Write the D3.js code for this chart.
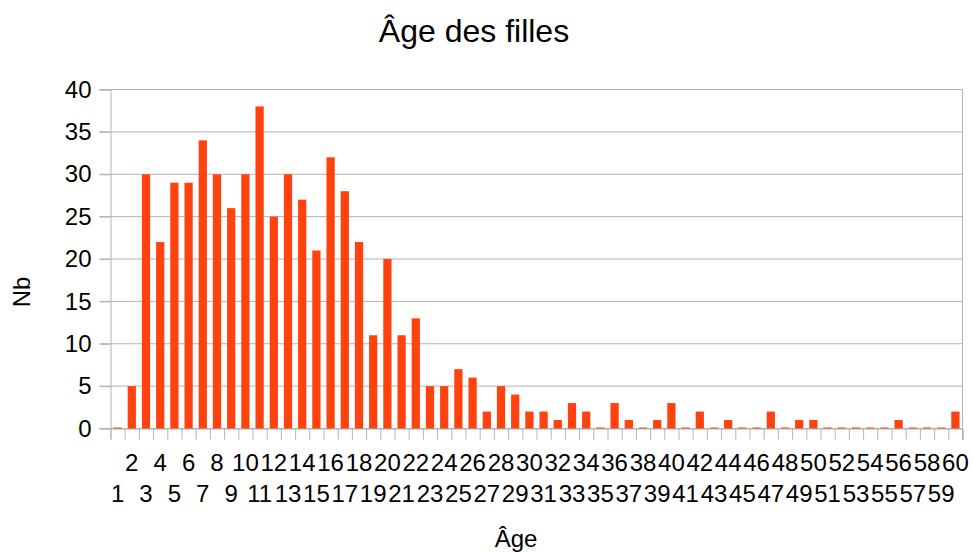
<!DOCTYPE html>
<html>
<head>
<meta charset="utf-8">
<script src="https://cdn.jsdelivr.net/npm/d3@7"></script>
<style>
  body { margin: 0; background: #fff; }
  svg text { font-family: "Liberation Sans", Arial, sans-serif; fill: #000; }
</style>
</head>
<body>
<svg id="svg" width="973" height="553"></svg>
<script>
// ages 1..60
const ages = d3.range(1, 61).map(String);
const counts = [
    0, 5, 30, 22, 29, 29, 34, 30, 26, 30,
    38, 25, 30, 27, 21, 32, 28, 22, 11, 20,
    11, 13, 5, 5, 7, 6, 2, 5, 4, 2,
    2, 1, 3, 2, 0, 3, 1, 0, 1, 3,
    0, 2, 0, 1, 0, 0, 2, 0, 1, 1,
    0, 0, 0, 0, 0, 1, 0, 0, 0, 2
];
const yTicks = [0, 5, 10, 15, 20, 25, 30, 35, 40];
const title = 'Âge des filles';
const xTitle = 'Âge';
const yTitle = 'Nb';

let svg = d3.select('#svg');
let plotLeft = 110.5, plotRight = 962.5, plotTop = 89.5, plotBottom = 428.5;
let grey = '#b3b3b3';

let x = d3.scaleBand().domain(ages).range([plotLeft, plotRight]).paddingInner(0.42).paddingOuter(0.21);
let xEdge = d3.scaleLinear().domain([0, ages.length]).range([plotLeft, plotRight]);
let y = d3.scaleLinear().domain([0, 40]).range([plotBottom, plotTop]);

// gridlines
svg.append('g')
    .selectAll('line')
    .data(yTicks)
    .join('line')
    .attr('x1', plotLeft - 11)
    .attr('x2', plotRight)
    .attr('y1', d => y(d))
    .attr('y2', d => y(d))
    .attr('stroke', grey)
    .attr('stroke-width', 1);

// right border
svg.append('line')
    .attr('x1', plotRight).attr('x2', plotRight)
    .attr('y1', plotTop).attr('y2', plotBottom + 11)
    .attr('stroke', grey);

// y axis
let yAxis = svg.append('g')
    .attr('transform', `translate(${plotLeft},0)`)
    .call(d3.axisLeft(y).tickValues(yTicks).tickSize(11).tickPadding(8));
yAxis.select('.domain').attr('stroke', grey);
yAxis.selectAll('.tick line').attr('stroke', grey);
yAxis.selectAll('.tick text').attr('font-size', 24).attr('font-family', '"Liberation Sans", Arial, sans-serif').attr('fill', '#000');

// x axis tick marks at category boundaries
let xAxis = svg.append('g')
    .attr('transform', `translate(0,${plotBottom})`)
    .call(d3.axisBottom(xEdge).tickValues(d3.range(0, ages.length + 1)).tickSize(11).tickFormat(''));
xAxis.select('.domain').attr('stroke', grey);
xAxis.selectAll('.tick line').attr('stroke', grey);

// staggered x labels
svg.append('g')
    .selectAll('text')
    .data(ages)
    .join('text')
    .attr('x', d => x(d) + x.bandwidth() / 2)
    .attr('y', (d, i) => i % 2 === 1 ? 471 : 501.5)
    .attr('text-anchor', 'middle')
    .attr('font-size', 24)
    .text(d => d);

// bars
svg.append('g')
    .selectAll('rect')
    .data(counts)
    .join('rect')
    .attr('x', (d, i) => x(ages[i]))
    .attr('width', x.bandwidth())
    .attr('y', d => d === 0 ? y(0) - 1 : y(d))
    .attr('height', d => d === 0 ? 1 : y(0) - y(d))
    .attr('fill', '#ff420e');

// titles
svg.append('text')
    .attr('x', 474)
    .attr('y', 42)
    .attr('text-anchor', 'middle')
    .attr('font-size', 32)
    .text(title);

svg.append('text')
    .attr('x', 516)
    .attr('y', 547)
    .attr('text-anchor', 'middle')
    .attr('font-size', 24)
    .text(xTitle);

svg.append('text')
    .attr('transform', 'translate(30,292) rotate(-90)')
    .attr('text-anchor', 'middle')
    .attr('font-size', 24)
    .text(yTitle);
</script>
</body>
</html>
